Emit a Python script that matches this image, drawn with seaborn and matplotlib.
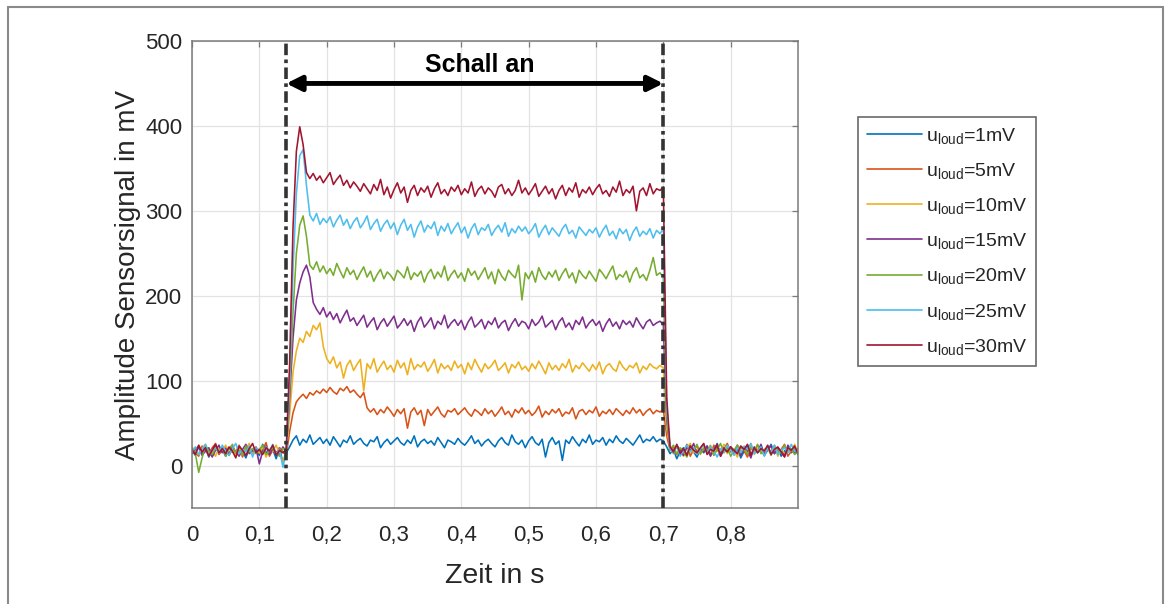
import numpy as np
import pandas as pd
import matplotlib
matplotlib.use("Agg")
import matplotlib.pyplot as plt
import seaborn as sns
from matplotlib.lines import Line2D

# ---------------- data ----------------
t_start, t_step, n_samples = 0.0, 0.005, 181
time_s = np.round(t_start + t_step * np.arange(n_samples), 3)

u1 = [18,12,22,15,20,10,17,24,14,19,11,21,16,13,23,17,9,20,15,18,12,25,16,14,19,8,21,3,15,
      22,30,35,24,31,27,36,25,29,33, 26,31,24,34,28,22,30,27,35,25,
      29,32,26,23,30,28,34,21,27,31, 25,29,33,27,24,30,26,35,22,28,
      31,26,29,24,33,27,21,30,28,25, 32,27,24,29,35,26,30,23,28,31,
      26,22,29,33,27,24,36,28,25,30, 21,29,34,27,24,31,10,27,33,25,
      29,6,30,26,34,28,23,31,27,36, 25,30,28,33,24,31,27,35,29,26,
      32,28,24,30,36,27,31,29,34,28, 31,29,
      22,14,19,8,17,21,12,24,16,10, 20,15,23,13,18,26,11,19,16,22,
      14,20,9,17,24,13,19,15,21,12, 18,25,14,20,11,17,22,15,19,13]

u5 = [20,15,11,23,17,14,21,26,13,18,22,12,19,16,24,10,20,17,13,22,15,19,27,11,18,14,21,16,12,
      40,62,75,80,84,79,86,83,88,85, 90,86,92,87,84,91,88,93,86,89,
      84,80,86,68,63,67,60,66,62,69, 64,58,66,61,67,44,63,68,60,65,
      47,66,59,64,69,61,57,65,63,67, 60,64,68,62,58,66,63,59,67,61,
      65,58,63,69,60,64,57,66,62,68, 61,65,59,63,70,57,64,60,66,62,
      67,58,63,61,68,55,64,66,60,65, 62,69,58,64,61,66,60,67,63,59,
      65,61,68,62,66,59,64,67,61,65, 63,66,
      35,18,22,13,20,16,25,11,19,23, 15,21,17,12,24,18,14,20,26,16,
      19,13,22,17,10,21,15,24,18,12, 20,16,23,14,19,25,11,17,21,15]

u10 = [22,16,13,20,25,14,18,11,21,17,24,15,19,12,23,16,20,26,13,18,15,22,10,19,17,24,14,4,18,
       60,110,135,150,145,158,152,165,160,168, 140,126,120,128,115,122,103,118,124,112,
       119,125,88,120,114,126,110,117,123,113, 118,110,124,115,121,107,126,113,119,116,
       122,111,117,125,109,120,114,118,112,123, 115,119,108,121,113,125,117,110,120,114,
       118,124,112,116,121,109,119,115,122,113, 117,111,120,114,123,116,108,121,113,118,
       112,120,115,125,110,118,114,121,116,111, 119,113,122,108,117,120,114,111,123,116,
       112,118,115,121,109,117,113,120,116,114, 118,115,
       45,20,14,23,17,11,21,26,15,19, 13,22,18,24,12,20,16,25,14,21,
       17,10,23,19,15,26,13,20,18,12, 22,16,24,11,19,14,21,17,25,15]

u15 = [14,19,23,12,17,21,10,18,24,15,20,13,22,16,11,19,25,14,18,21,2,17,23,13,20,16,12,22,17,
       80,150,195,215,228,236,222,192,184,178, 186,175,181,172,179,168,176,183,170,174,
       165,171,177,163,169,174,160,168,173,164, 170,176,162,167,173,165,171,158,169,175,
       163,168,174,161,170,166,177,162,168,172, 165,171,160,169,175,163,167,172,161,170,
       166,174,162,168,171,159,167,173,164,170, 168,161,172,165,169,176,163,167,171,160,
       169,174,163,168,160,171,166,175,162,168, 172,165,170,158,167,173,164,169,161,171,
       166,170,163,174,167,161,169,172,165,168, 170,166,
       55,21,15,24,18,12,22,17,26,14, 20,16,23,11,19,25,13,21,17,22,
       15,24,12,20,18,9,22,16,25,13, 19,23,14,21,17,11,24,18,15,20]

u20 = [21,14,-8,9,24,17,13,20,16,22,11,19,25,15,18,12,23,16,20,14,19,24,13,17,21,15,11,20,18,
       90,180,250,283,294,270,236,231,240,228, 235,226,232,224,238,229,221,233,225,230,
       219,227,234,222,229,217,225,231,220,228, 224,218,230,226,221,234,219,227,223,229,
       216,226,231,220,228,222,235,218,225,230, 221,227,217,232,224,229,219,226,233,220,
       228,214,231,223,218,230,225,221,236,195, 227,220,229,216,233,224,219,228,222,230,
       218,226,232,221,227,215,230,224,220,229, 223,217,231,226,220,228,235,219,225,222,
       229,216,227,233,221,225,218,230,245,224, 227,222,
       60,19,24,13,21,16,10,22,18,25, 14,20,17,23,12,19,26,15,21,11,
       18,24,16,20,13,22,17,25,14,19, 21,12,23,18,15,24,16,20,13,17]

u25 = [16,22,13,19,25,11,18,21,15,24,17,12,20,26,14,19,16,23,10,21,18,14,22,17,25,13,19,-2,16,
       100,230,320,365,372,330,295,288,297,284, 291,286,293,281,289,295,283,290,279,287,
       292,280,286,294,278,285,290,276,284,289, 279,286,272,283,290,277,284,269,281,288,
       275,283,279,287,271,282,276,285,273,280, 286,274,281,268,279,285,272,280,277,284,
       271,278,283,275,286,270,279,274,282,276, 281,273,278,285,269,277,283,272,280,275,
       270,279,284,273,277,268,281,276,271,278, 274,280,269,277,283,271,276,267,279,273,
       278,265,275,281,270,276,272,279,268,277, 273,279,
       70,20,15,23,11,18,24,16,21,13, 19,25,14,22,17,10,20,16,24,18,
       12,21,15,23,19,26,14,17,22,11, 20,16,24,13,18,21,15,25,17,19]

u30 = [19,13,24,16,21,11,18,25,15,20,14,22,17,9,23,18,12,20,26,15,19,13,21,17,24,12,18,15,20,
       120,280,370,399,378,345,338,344,336,341, 333,339,345,331,337,342,330,336,327,334,
       329,323,332,326,320,331,324,337,319,328, 315,325,333,321,328,310,324,330,318,327,
       322,329,316,326,333,320,325,318,328,323, 330,319,326,321,334,317,325,329,320,327,
       323,316,328,331,320,326,318,324,336,321, 327,319,325,332,317,323,329,320,326,314,
       324,330,318,327,322,333,316,325,321,328, 319,326,331,320,324,317,328,322,335,318,
       325,321,329,300,323,327,318,332,320,326, 324,328,
       80,22,16,25,14,20,12,23,18,15, 21,26,13,19,17,24,11,20,16,22,
       18,14,23,19,25,12,21,15,20,17, 24,13,19,22,16,10,21,18,23,14]

series_labels = [r"$\mathregular{u_{loud}}$=1mV", r"$\mathregular{u_{loud}}$=5mV",
                 r"$\mathregular{u_{loud}}$=10mV", r"$\mathregular{u_{loud}}$=15mV",
                 r"$\mathregular{u_{loud}}$=20mV", r"$\mathregular{u_{loud}}$=25mV",
                 r"$\mathregular{u_{loud}}$=30mV"]
series_values = [u1, u5, u10, u15, u20, u25, u30]
line_colors = ["#0072BD", "#D95319", "#EDB120", "#7E2F8E", "#77AC30", "#4DBEEE", "#A2142F"]

x_ticks = [0, 0.1, 0.2, 0.3, 0.4, 0.5, 0.6, 0.7, 0.8]
x_tick_labels = ["0", "0,1", "0,2", "0,3", "0,4", "0,5", "0,6", "0,7", "0,8"]
y_ticks = [0, 100, 200, 300, 400, 500]
sound_on, sound_off = 0.14, 0.70
arrow_level = 450
annot_text = "Schall an"

for v in series_values:
    assert len(v) == n_samples, len(v)

frames = [pd.DataFrame({"Zeit": time_s, "Amplitude": np.asarray(v, float), "Serie": lab})
          for v, lab in zip(series_values, series_labels)]
df = pd.concat(frames, ignore_index=True)

# ---------------- style ----------------
sns.set_style("whitegrid")
plt.rcParams["font.family"] = ["Liberation Sans", "DejaVu Sans"]
plt.rcParams["mathtext.default"] = "regular"

fig = plt.figure(figsize=(11.66, 6.04), dpi=100)
ax = fig.add_axes([192/1166, 1-508/604, (798-192)/1166, (508-41)/604])

sns.lineplot(data=df, x="Zeit", y="Amplitude", hue="Serie", palette=line_colors,
             hue_order=series_labels, estimator=None, sort=False, linewidth=1.15, ax=ax)

ax.set_xlim(0, 0.9)
ax.set_ylim(-50, 500)
ax.set_xticks(x_ticks)
ax.set_xticklabels(x_tick_labels)
ax.set_yticks(y_ticks)
ax.grid(True, color="#e3e3e3", linewidth=0.9)
for s in ax.spines.values():
    s.set_color("#7a7a7a")
    s.set_linewidth(1.1)
    s.set_visible(True)
ax.tick_params(axis="both", direction="in", length=4, width=0.9, color="#7a7a7a",
               labelsize=16, labelcolor="#262626", top=True, right=True)
ax.tick_params(axis="x", pad=12)
ax.tick_params(axis="y", pad=7)

ax.set_xlabel("Zeit in s", fontsize=20.5, color="#262626")
ax.set_ylabel("Amplitude Sensorsignal in mV", fontsize=20, color="#262626")
ax.xaxis.set_label_coords(0.5, -0.118)
ax.yaxis.set_label_coords(-0.084, 0.5)

# sound on/off markers
for xv in (sound_on, sound_off):
    ax.axvline(xv, color="#333333", linewidth=2.6, linestyle=(0, (3.2, 1.2, 1.0, 1.2)), zorder=5)

ax.annotate("", xy=(sound_on, arrow_level), xytext=(sound_off, arrow_level),
            arrowprops=dict(arrowstyle="<|-|>,head_length=0.9,head_width=0.45", lw=3.5,
                            color="black", shrinkA=0, shrinkB=0), zorder=6)
ax.text(0.428, 463, annot_text, ha="center", va="baseline", fontsize=18,
        fontweight="bold", color="black")

# legend
handles, labels = ax.get_legend_handles_labels()
if ax.get_legend() is not None:
    ax.get_legend().remove()
leg = fig.legend(handles, labels, loc="upper left", bbox_to_anchor=(858/1166, 1-117/604),
                 fontsize=14, frameon=True, fancybox=False, edgecolor="#6a6a6a",
                 framealpha=1, handlelength=2.85, handletextpad=0.2, labelspacing=0.78,
                 borderpad=0.45, borderaxespad=0)
leg.get_frame().set_linewidth(1.2)
for h in leg.get_lines():
    h.set_linewidth(1.2)

# outer frame of the figure
for xs, ys in [((8/1166, 8/1166), (0, 1-7/604)), ((8/1166, 1163/1166), (1-7/604, 1-7/604)),
               ((1163/1166, 1163/1166), (1-7/604, 0))]:
    fig.add_artist(Line2D(xs, ys, color="#8a8a8a", linewidth=1.5, transform=fig.transFigure))

fig.savefig("out.png", dpi=100)
